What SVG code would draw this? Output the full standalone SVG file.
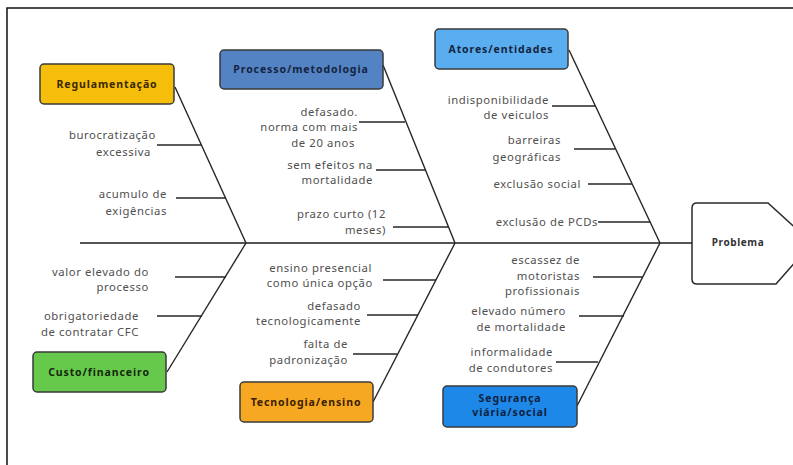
<svg xmlns="http://www.w3.org/2000/svg" width="793" height="465" viewBox="0 0 793 465">
<style>
.box{stroke:#3a3a3a;stroke-width:1.5}
.lbl{font-family:"Noto Sans","DejaVu Sans",sans-serif;font-weight:bold;font-size:10.5px;letter-spacing:0.9px;text-anchor:middle}
.t{font-family:"Noto Sans","DejaVu Sans",sans-serif;font-size:11.3px;fill:#505050;letter-spacing:0.6px;text-anchor:end}
.ln{stroke:#262626;stroke-width:1.4;fill:none}
.sp{stroke:#1e1e1e;stroke-width:1.6;fill:none}
</style>
<rect x="0" y="0" width="793" height="465" fill="#ffffff"/>
<path d="M7,465 L7,8 L793,8" fill="none" stroke="#111" stroke-width="1.5"/>
<g id="connectors">
<line class="sp" x1="80" y1="243" x2="692" y2="243"/>
<polyline class="ln" points="175,87 246,243"/>
<line class="ln" x1="157" y1="145" x2="201" y2="145"/>
<line class="ln" x1="176" y1="198" x2="226" y2="198"/>
<polyline class="ln" points="383,65 455,243"/>
<line class="ln" x1="359" y1="122" x2="405" y2="122"/>
<line class="ln" x1="376" y1="170" x2="425" y2="170"/>
<line class="ln" x1="393" y1="227" x2="448" y2="227"/>
<polyline class="ln" points="569,50 660,243"/>
<line class="ln" x1="552" y1="106" x2="595" y2="106"/>
<line class="ln" x1="574" y1="149" x2="615" y2="149"/>
<line class="ln" x1="588" y1="184" x2="632" y2="184"/>
<line class="ln" x1="598" y1="222" x2="650" y2="222"/>
<polyline class="ln" points="246,243 167,372"/>
<line class="ln" x1="175" y1="277" x2="226" y2="277"/>
<line class="ln" x1="157" y1="316" x2="202" y2="316"/>
<polyline class="ln" points="455,243 373,402"/>
<line class="ln" x1="383" y1="280" x2="436" y2="280"/>
<line class="ln" x1="367" y1="315" x2="418" y2="315"/>
<line class="ln" x1="353" y1="354" x2="397" y2="354"/>
<polyline class="ln" points="660,243 577,406"/>
<line class="ln" x1="593" y1="277" x2="643" y2="277"/>
<line class="ln" x1="579" y1="316" x2="624" y2="316"/>
<line class="ln" x1="556" y1="362" x2="598" y2="362"/>
</g>
<g id="problema">
<path d="M692,208 Q692,203 697,203 L768,203 L812,243 L776,284 L697,284 Q692,284 692,279 Z" fill="#fff" stroke="#2a2a2a" stroke-width="1.5"/>
<text class="lbl" x="738" y="246" fill="#333" style="font-size:10px;letter-spacing:0.6px">Problema</text>
</g>
<g id="regulamentacao">
<rect class="box" x="40" y="64" width="134" height="40" rx="4" fill="#F5BE0B"/>
<text class="lbl" x="107" y="88" fill="#3a2800">Regulamentação</text>
<text class="t" x="156" y="139">burocratização</text>
<text class="t" x="151" y="156">excessiva</text>
<text class="t" x="167" y="198">acumulo de</text>
<text class="t" x="167" y="215">exigências</text>
</g>
<g id="processo">
<rect class="box" x="220" y="50" width="163" height="39" rx="4" fill="#5383C3"/>
<text class="lbl" x="301" y="73" fill="#14233f">Processo/metodologia</text>
<text class="t" x="358" y="116">defasado.</text>
<text class="t" x="358" y="131">norma com mais</text>
<text class="t" x="355" y="147">de 20 anos</text>
<text class="t" x="373" y="169">sem efeitos na</text>
<text class="t" x="373" y="184">mortalidade</text>
<text class="t" x="386" y="218">prazo curto (12</text>
<text class="t" x="386" y="234">meses)</text>
</g>
<g id="atores">
<rect class="box" x="435" y="29" width="133" height="40" rx="4" fill="#5AAEF0"/>
<text class="lbl" x="501" y="53" fill="#14233f">Atores/entidades</text>
<text class="t" x="549" y="104">indisponibilidade</text>
<text class="t" x="549" y="119">de veiculos</text>
<text class="t" x="561" y="144">barreiras</text>
<text class="t" x="561" y="161">geográficas</text>
<text class="t" x="581" y="188">exclusão social</text>
<text class="t" x="598" y="226">exclusão de PCDs</text>
</g>
<g id="custo">
<rect class="box" x="33" y="352" width="133" height="40" rx="4" fill="#67C94B"/>
<text class="lbl" x="99" y="376" fill="#13280c">Custo/financeiro</text>
<text class="t" x="149" y="276">valor elevado do</text>
<text class="t" x="149" y="291">processo</text>
<text class="t" x="139" y="320">obrigatoriedade</text>
<text class="t" x="139" y="336">de contratar CFC</text>
</g>
<g id="tecnologia">
<rect class="box" x="240" y="382" width="133" height="40" rx="4" fill="#F7A823"/>
<text class="lbl" x="306" y="406" fill="#3a2000">Tecnologia/ensino</text>
<text class="t" x="372" y="272">ensino presencial</text>
<text class="t" x="373" y="287">como única opção</text>
<text class="t" x="361" y="310">defasado</text>
<text class="t" x="361" y="325">tecnologicamente</text>
<text class="t" x="348" y="348">falta de</text>
<text class="t" x="348" y="364">padronização</text>
</g>
<g id="seguranca">
<rect class="box" x="443" y="386" width="134" height="41" rx="4" fill="#1E88E8"/>
<text class="lbl" x="510" y="402" fill="#0f1f3f">Segurança</text>
<text class="lbl" x="510" y="416" fill="#0f1f3f">viária/social</text>
<text class="t" x="580" y="264">escassez de</text>
<text class="t" x="580" y="280">motoristas</text>
<text class="t" x="580" y="295">profissionais</text>
<text class="t" x="566" y="315">elevado número</text>
<text class="t" x="566" y="331">de mortalidade</text>
<text class="t" x="553" y="356">informalidade</text>
<text class="t" x="553" y="372">de condutores</text>
</g>
</svg>
